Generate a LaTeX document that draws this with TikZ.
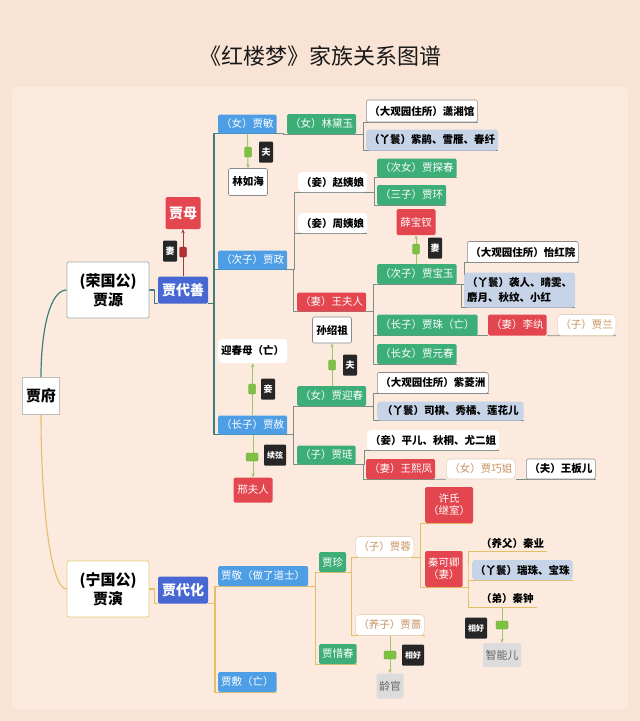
\documentclass[tikz,border=0pt]{standalone}
\usepackage{fontspec}
\setmainfont{Noto Sans CJK SC}
\usetikzlibrary{calc,arrows.meta}
\pgfdeclarelayer{bgpanel}
\pgfdeclarelayer{lines}
\pgfsetlayers{bgpanel,lines,main}
\definecolor{pageBG}{HTML}{F8E3D5}
\definecolor{panelBG}{HTML}{FCEADF}
\definecolor{cRoyal}{HTML}{4767D3}
\definecolor{cBlue}{HTML}{4E9EE6}
\definecolor{cGreen}{HTML}{3DAE78}
\definecolor{cRed}{HTML}{E3464F}
\definecolor{cSlate}{HTML}{C7D3E7}
\definecolor{cTan}{HTML}{C8925F}
\definecolor{cTanB}{HTML}{E8D2BC}
\definecolor{cTeal}{HTML}{3E7F7C}
\definecolor{cLine}{HTML}{7E8C86}
\definecolor{cYel}{HTML}{E3C068}
\definecolor{cGrayB}{HTML}{8C8C8C}
\definecolor{cBadge}{HTML}{7DC142}
\definecolor{cArr}{HTML}{9CC860}
\definecolor{cDark}{HTML}{262626}
\definecolor{cLight}{HTML}{DCDCDC}
\definecolor{cMaroon}{HTML}{A33A38}
\definecolor{cRgB}{HTML}{9DB3AC}
\definecolor{cNgB}{HTML}{E8CD7A}
\begin{document}
\begin{tikzpicture}[x=1pt,y=-1pt,
  every node/.style={inner sep=0pt},
  nb/.style={anchor=west, inner xsep=3pt, inner ysep=0pt, rounded corners=1.5pt,
    font=\fontsize{10.5}{12}\selectfont, minimum height=20pt},
  nbb/.style={nb, font=\fontsize{10.5}{12}\selectfont\bfseries},
  blu/.style={nb, fill=cBlue, text=white},
  grn/.style={nb, fill=cGreen, text=white},
  rd/.style={nb, fill=cRed, text=white},
  wb/.style={nbb, fill=white, draw=cGrayB, line width=0.6pt, text=black},
  ws/.style={nbb, fill=white, text=black, rounded corners=4pt},
  tn/.style={nb, fill=white, draw=cTanB, line width=0.6pt, text=cTan, rounded corners=4pt},
  sl/.style={nbb, fill=cSlate, text=black, rounded corners=3pt},
  pl/.style={nbb, text=black, minimum height=17pt},
  big/.style={anchor=center, font=\fontsize{14}{16}\selectfont\bfseries, text=white, rounded corners=1.5pt},
  cbox/.style={anchor=center, font=\fontsize{10.5}{12}\selectfont\bfseries, rounded corners=1.5pt},
  lbl/.style={anchor=center, fill=cDark, text=white, minimum width=14pt, minimum height=21pt,
    font=\fontsize{9}{9}\selectfont\bfseries, rounded corners=1pt},
  lblw/.style={lbl, minimum width=22pt, font=\fontsize{8}{8}\selectfont\bfseries},
  gbadge/.style={anchor=center, fill=cBadge, draw=cBadge!80!black, line width=0.3pt,
    minimum width=7pt, minimum height=10pt, rounded corners=1pt},
  gbadgew/.style={gbadge, minimum width=12pt, minimum height=8pt},
  rbadge/.style={gbadge, fill=cMaroon!85!red, draw=cMaroon!70!black},
  lnT/.style={draw=cTeal, line width=1.2pt, line join=round},
  lnG/.style={draw=cLine, line width=0.8pt, line join=round},
  lnY/.style={draw=cYel, line width=1.1pt, line join=round},
  lnYs/.style={draw=cYel, line width=0.8pt, line join=round},
  garr/.style={draw=cArr, line width=0.9pt, -{Stealth[length=4pt,width=3.5pt]}},
  rarr/.style={draw=cMaroon, line width=0.9pt, -{Stealth[length=4pt,width=3.5pt]}}
]
\useasboundingbox (0,0) rectangle (640,721);
\begin{pgfonlayer}{bgpanel}
  \fill[pageBG] (0,0) rectangle (640,721);
  \fill[panelBG, rounded corners=6pt] (12,87) rectangle (628,710);
\end{pgfonlayer}

% title
\node[font=\fontsize{22}{24}\selectfont, text=black!90] (title) at (320,56) {《红楼梦》家族关系图谱};

% roots
\node[anchor=center, fill=white, draw=black!25, line width=0.6pt, minimum width=37pt, minimum height=37pt,
  font=\fontsize{15}{17}\selectfont\bfseries] (jf) at (41,396) {贾府};
\node[anchor=center, fill=white, draw=cRgB, line width=0.8pt, rounded corners=2pt, minimum width=82pt, minimum height=56pt,
  align=center, font=\fontsize{15}{19}\selectfont\bfseries] (rg) at (108,290) {(荣国公)\\贾源};
\node[anchor=center, fill=white, draw=cNgB, line width=0.8pt, rounded corners=2pt, minimum width=82pt, minimum height=56pt,
  align=center, font=\fontsize{15}{19}\selectfont\bfseries] (ng) at (108,589) {(宁国公)\\贾演};
\node[big, fill=cRoyal, minimum width=50pt, minimum height=27pt] (dsh) at (183,290) {贾代善};
\node[big, fill=cRoyal, minimum width=50pt, minimum height=27pt] (dhh) at (183,590) {贾代化};
\node[big, fill=cRed, minimum width=35pt, minimum height=32pt] (jmu) at (183,213) {贾母};

% Rong branch
\node[blu, minimum height=19pt] (jm) at (218,124) {（女）贾敏};
\node[cbox, fill=white, draw=cGrayB, line width=0.6pt, minimum width=39pt, minimum height=27pt] (lrh) at (248,182) {林如海};
\node[grn] (ldy) at (287,124) {（女）林黛玉};
\node[wb, minimum height=22pt] (xxg) at (366,111) {（大观园住所）潇湘馆};
\node[sl, minimum height=21pt] (zj) at (366,140) {（丫鬟）紫鹃、雪雁、春纤};

\node[blu, minimum height=19pt] (jz) at (218,260) {（次子）贾政};
\node[ws] (zhao) at (298,182) {（妾）赵姨娘};
\node[ws] (zhou) at (298,223) {（妾）周姨娘};
\node[rd, minimum height=19pt] (wfr) at (297,302) {（妻）王夫人};
\node[grn, minimum height=19pt] (tc) at (377,168) {（次女）贾探春};
\node[grn] (jh) at (377,195) {（三子）贾环};
\node[cbox, fill=cRed, text=white, minimum width=39pt, minimum height=26pt, font=\fontsize{10.5}{12}\selectfont] (xbc) at (416,222) {薛宝钗};
\node[grn] (by) at (377,274) {（次子）贾宝玉};
\node[grn, minimum height=21pt] (zhu) at (377,325) {（长子）贾珠（亡）};
\node[grn] (yc) at (377,354) {（长女）贾元春};
\node[wb, minimum height=21pt] (yhy) at (467,252) {（大观园住所）怡红院};
\node[sl, minimum height=35pt, align=left, font=\fontsize{10.5}{15}\selectfont\bfseries] (xr) at (464,290) {（丫鬟）袭人、晴雯、\\麝月、秋纹、小红};
\node[rd, minimum height=21pt] (lw) at (488,325) {（妻）李纨};
\node[tn, minimum height=21pt] (lan) at (557,325) {（子）贾兰};
\node[cbox, fill=white, draw=cGrayB, line width=0.6pt, minimum width=39pt, minimum height=26pt] (szz) at (332,330) {孙绍祖};

\node[blu, minimum height=19pt] (js) at (218,425) {（长子）贾赦};
\node[ws, minimum height=24pt] (ycm) at (218,351) {迎春母（亡）};
\node[cbox, fill=cRed, text=white, minimum width=39pt, minimum height=25pt, font=\fontsize{10.5}{12}\selectfont] (xfr) at (253,490) {邢夫人};
\node[grn] (yingc) at (297,396) {（女）贾迎春};
\node[grn, minimum height=19pt] (jl) at (297,455) {（子）贾琏};
\node[wb, minimum height=21pt] (zlz) at (377,383) {（大观园住所）紫菱洲};
\node[sl, minimum height=19pt, inner xsep=5pt] (sq) at (377,411) {（丫鬟）司棋、秀橘、莲花儿};
\node[ws] (pe) at (367,440) {（妾）平儿、秋桐、尤二姐};
\node[rd] (wxf) at (366,469) {（妻）王熙凤};
\node[tn] (qj) at (446,469) {（女）贾巧姐};
\node[wb] (bb) at (526,469) {（夫）王板儿};

% Ning branch
\node[blu] (jjing) at (218,576) {贾敬（做了道士）};
\node[blu] (jfu) at (218,682) {贾敷（亡）};
\node[grn] (jzhen) at (319,562) {贾珍};
\node[grn] (jxc) at (319,654) {贾惜春};
\node[tn, minimum height=21pt] (jr) at (355,547) {（子）贾蓉};
\node[tn, minimum height=21pt] (jq) at (355,625) {（养子）贾蔷};
\node[nb, fill=cRed, text=white, minimum height=36pt, align=center] (xs) at (425,505) {许氏\\（继室）};
\node[nb, fill=cRed, text=white, minimum height=36pt, align=center] (qkq) at (425,569) {秦可卿\\（妻）};
\node[pl] (qy) at (478,543) {（养父）秦业};
\node[sl] (rz) at (472,570) {（丫鬟）瑞珠、宝珠};
\node[pl] (qzh) at (478,599) {（弟）秦钟};
\node[cbox, fill=cLight, text=black!60, minimum width=38pt, minimum height=24pt, font=\fontsize{11}{12}\selectfont] (zn) at (502,655) {智能儿};
\node[cbox, fill=cLight, text=black!60, minimum width=27pt, minimum height=25pt, font=\fontsize{11}{12}\selectfont] (lg) at (390,686) {龄官};

% connectors
\begin{pgfonlayer}{lines}
  \draw[lnT] (jf.north) .. controls (41,330) and (50,290) .. (rg.west);
  \draw[lnY] (jf.south) .. controls (41,500) and (50,589) .. (ng.west);
  \draw[lnT] (rg.east) -| ($(dsh.south west)+(-3pt,0)$) -- (dsh.south west);
  \draw[lnY] (ng.east) -| ($(dhh.south west)+(-3pt,0)$) -- (dhh.south west);

  \foreach \c in {jm,jz,js}
    \draw[lnT] (dsh.south east) -| ($(\c.south west)+(-4pt,0)$) -- (\c.south east);
  \draw[lnG] (jm.south east) -| ($(ldy.south west)+(-4pt,0)$) -- (ldy.south east);
  \foreach \c in {xxg,zj}
    \draw[lnG] (ldy.south east) -| ($(\c.south west)+(-3pt,0)$) -- (\c.south east);
  \foreach \c in {zhao,zhou,wfr}
    \draw[lnG] (jz.south east) -| ($(\c.south west)+(-4pt,0)$) -- (\c.south east);
  \foreach \c in {tc,jh}
    \draw[lnG] (zhao.south east) -| ($(\c.south west)+(-3pt,0)$) -- (\c.south east);
  \foreach \c in {by,zhu,yc}
    \draw[lnG] (wfr.south east) -| ($(\c.south west)+(-4pt,0)$) -- (\c.south east);
  \foreach \c in {yhy,xr}
    \draw[lnG] (by.south east) -| ($(\c.south west)+(-3pt,0)$) -- (\c.south east);
  \draw[lnG] (zhu.south east) -- (lw.south west);
  \draw[lnG] (lw.south east) -- (lan.south east);
  \foreach \c in {yingc,jl}
    \draw[lnG] (js.south east) -| ($(\c.south west)+(-4pt,0)$) -- (\c.south east);
  \foreach \c in {zlz,sq}
    \draw[lnG] (yingc.south east) -| ($(\c.south west)+(-4pt,0)$) -- (\c.south east);
  \foreach \c in {pe,wxf}
    \draw[lnG] (jl.south east) -| ($(\c.south west)+(-3pt,0)$) -- (\c.south east);
  \draw[lnG] (wxf.south east) -- (qj.south west);
  \draw[lnG] (qj.south east) -- (bb.south east);

  \foreach \c in {jjing,jfu}
    \draw[lnY] (dhh.south east) -| ($(\c.south west)+(-3pt,0)$) -- (\c.south east);
  \foreach \c in {jzhen,jxc}
    \draw[lnYs] (jjing.south east) -| ($(\c.south west)+(-4pt,0)$) -- (\c.south east);
  \foreach \c in {jr,jq}
    \draw[lnYs] (jzhen.south east) -| ($(\c.south west)+(-4pt,0)$) -- (\c.south east);
  \foreach \c in {xs,qkq}
    \draw[lnYs] (jr.south east) -| ($(\c.south west)+(-5pt,0)$) -- (\c.south east);
  \foreach \c in {qy,rz,qzh}
    \draw[lnYs] (qkq.south east) -| ($(rz.south west)+(-4pt,0)$) |- (\c.south east);

  % relation arrows
  \draw[rarr] (dsh.north) -- (jmu.south);
  \draw[garr] (jm.south) -- (lrh.north);
  \draw[garr] (by.north -| xbc.south) -- (xbc.south);
  \draw[garr] (yingc.north -| szz.south) -- (szz.south);
  \draw[garr] (js.north -| ycm.south) -- (ycm.south);
  \draw[garr] (js.south -| xfr.north) -- (xfr.north);
  \draw[garr] (qzh.south -| zn.north) -- (zn.north);
  \draw[garr] (jq.south -| lg.north) -- (lg.north);
\end{pgfonlayer}

% badges
\node[rbadge] (b1) at (183,252) {};
\node[gbadge] (b2) at (248,152) {};
\node[gbadge] (b3) at (416,249) {};
\node[gbadge] (b4) at (332,365) {};
\node[gbadge] (b5) at (252,389) {};
\node[gbadgew] (b6) at (252,457) {};
\node[gbadgew] (b7) at (502,625) {};
\node[gbadgew] (b8) at (390,655) {};

% labels
\node[lbl] (l1) at (170,251) {妻};
\node[lbl] (l2) at (266,152) {夫};
\node[lbl] (l3) at (435,248) {妻};
\node[lbl] (l4) at (350,365) {夫};
\node[lbl] (l5) at (268,389) {妾};
\node[lblw] (l6) at (275,455) {续弦};
\node[lblw] (l7) at (476,628) {相好};
\node[lblw] (l8) at (413,655) {相好};
\end{tikzpicture}
\end{document}
